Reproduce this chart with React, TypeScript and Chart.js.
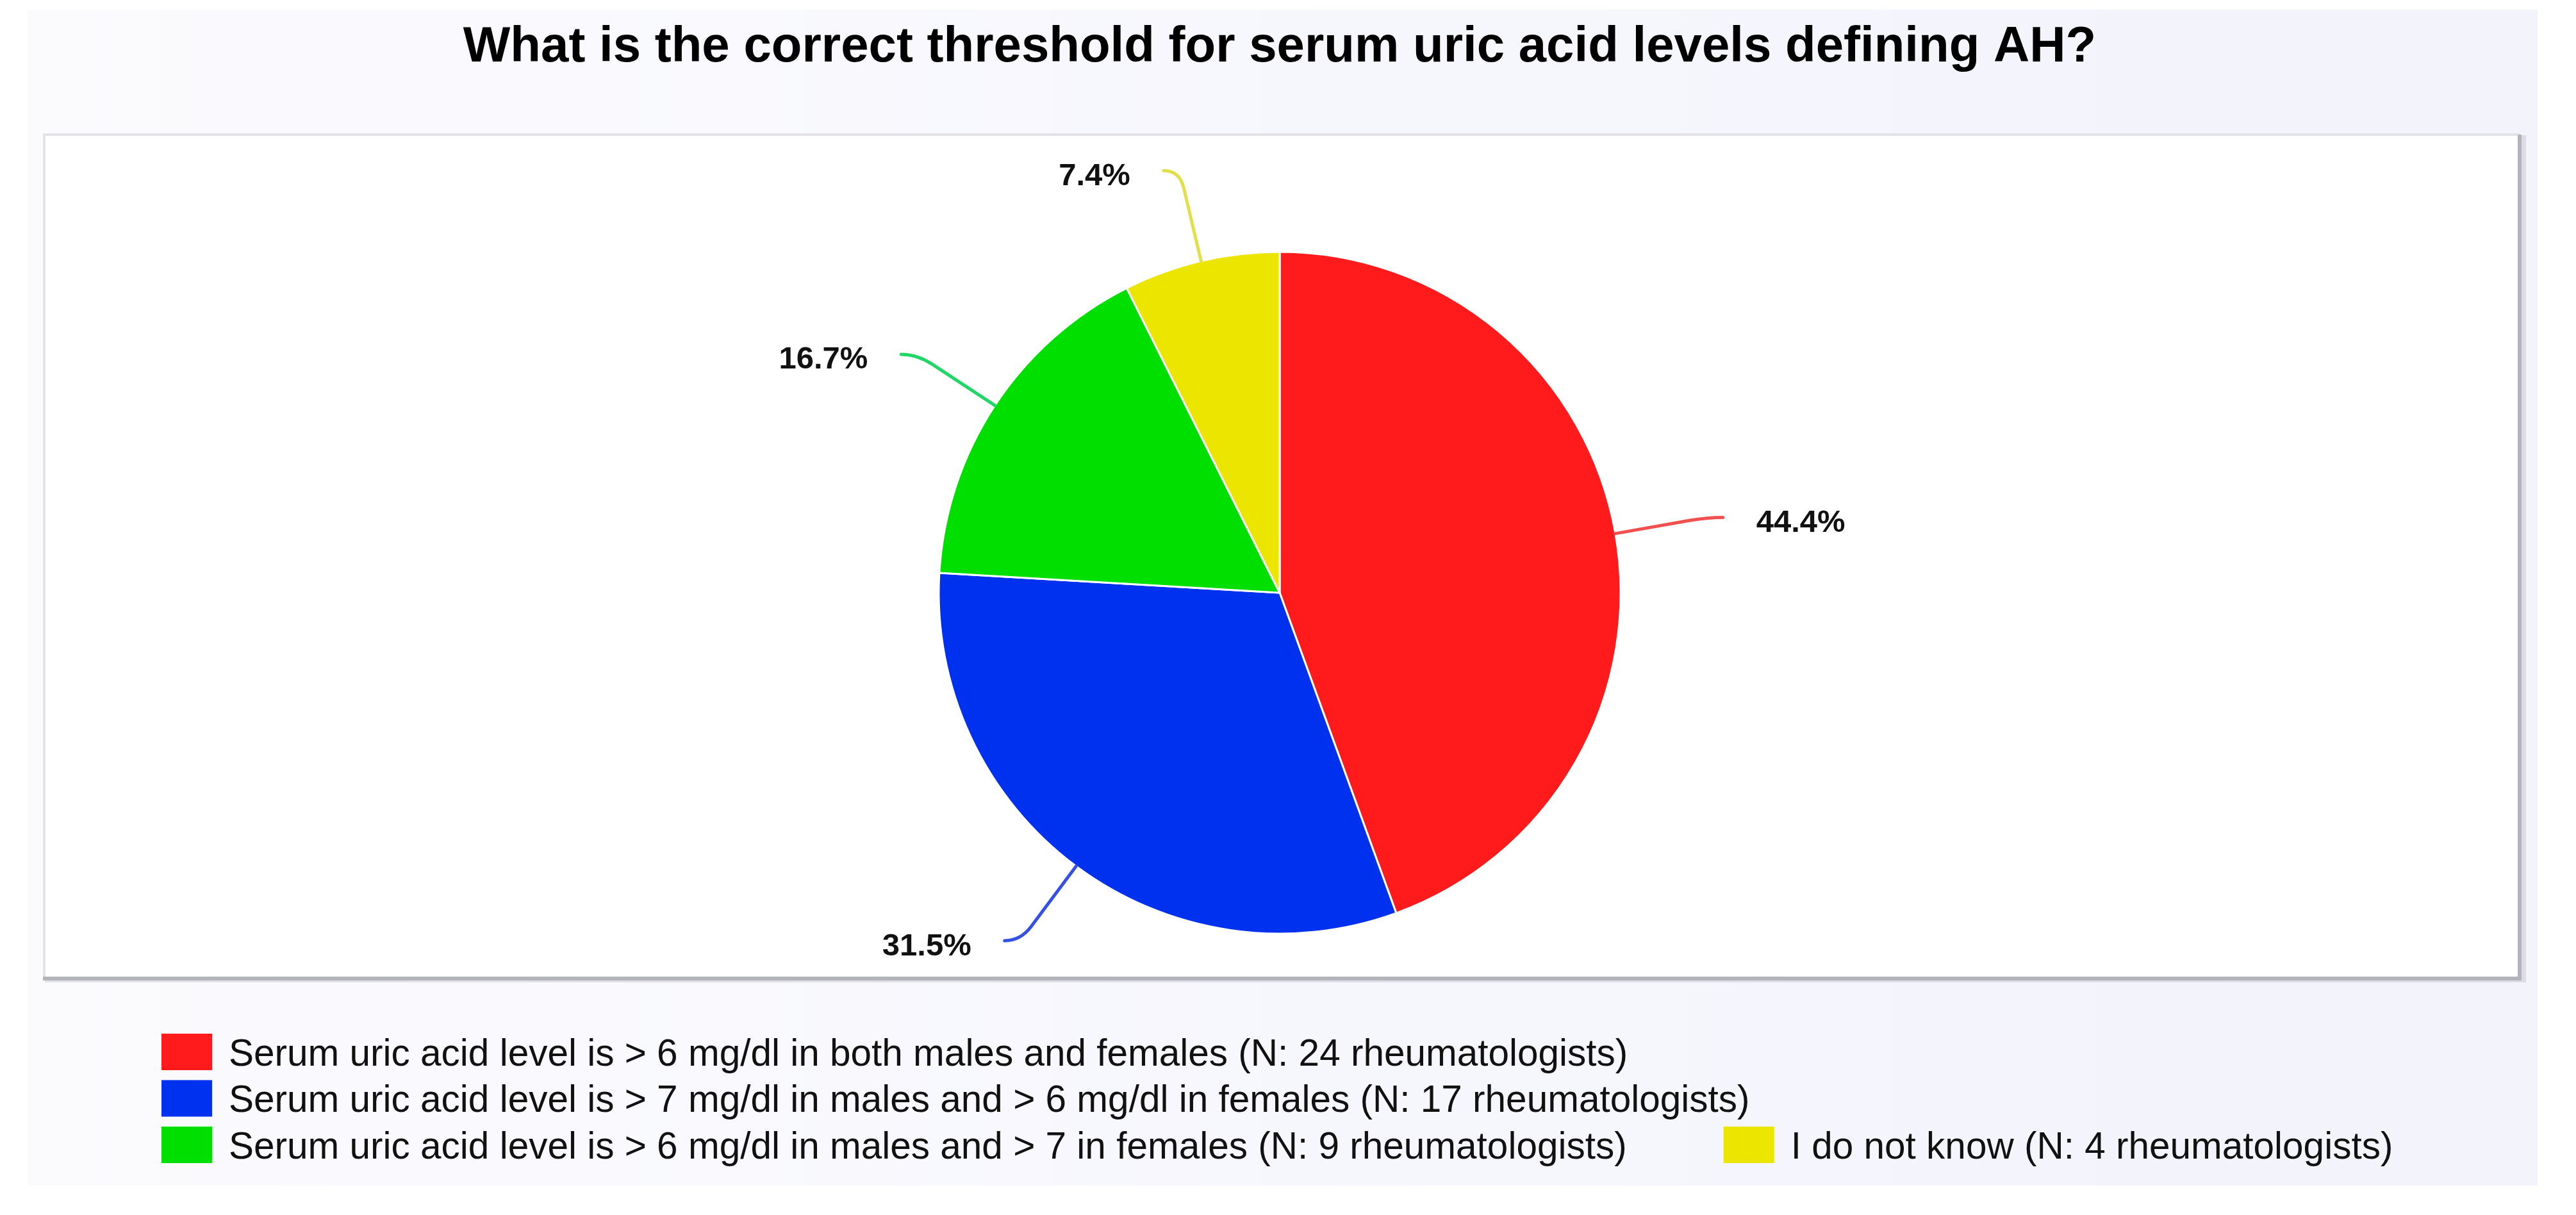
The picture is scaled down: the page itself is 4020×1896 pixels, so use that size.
import React, { useEffect, useRef } from "react";
import { Chart, registerables } from "chart.js";

Chart.register(...registerables);

const TITLE = "What is the correct threshold for serum uric acid levels defining AH?";
const CATEGORIES = [
  "Serum uric acid level is > 6 mg/dl in both males and females (N: 24 rheumatologists)",
  "Serum uric acid level is > 7 mg/dl in males and > 6 mg/dl in females (N: 17 rheumatologists)",
  "Serum uric acid level is > 6 mg/dl in males and > 7 in females (N: 9 rheumatologists)",
  "I do not know (N: 4 rheumatologists)",
];
const COUNTS = [24, 17, 9, 4];
const SLICE_COLORS = ["#ff1b1b", "#0031ee", "#00df00", "#ebe500"];
const LEADER_COLORS = ["#f24f4f", "#3550e4", "#1fd765", "#e3df4a"];

const FONT = "'Liberation Sans', Arial, Helvetica, sans-serif";

const framePlugin = {
  id: "frame",
  beforeDraw(chart: any) {
    const ctx = chart.ctx;
    ctx.save();
    const g = ctx.createLinearGradient(43, 0, 3960, 0);
    g.addColorStop(0, "#fbfbfe");
    g.addColorStop(1, "#f2f3fb");
    ctx.fillStyle = g;
    ctx.fillRect(43, 15, 3960 - 43, 1850 - 15);
    ctx.fillStyle = "rgba(150,150,165,0.25)";
    ctx.fillRect(70, 211, 3872, 1322);
    ctx.fillStyle = "#ffffff";
    ctx.fillRect(67, 208, 3932 - 67, 1527 - 208);
    ctx.lineCap = "butt";
    ctx.strokeStyle = "#e3e3e8";
    ctx.lineWidth = 4;
    ctx.beginPath();
    ctx.moveTo(69, 1527);
    ctx.lineTo(69, 210);
    ctx.lineTo(3932, 210);
    ctx.stroke();
    ctx.strokeStyle = "#b3b3bc";
    ctx.lineWidth = 6;
    ctx.beginPath();
    ctx.moveTo(67, 1527);
    ctx.lineTo(3932, 1527);
    ctx.lineTo(3932, 210);
    ctx.stroke();
    ctx.restore();
  },
};

const leaderPlugin = {
  id: "leaders",
  afterDatasetsDraw(chart: any) {
    const ctx = chart.ctx;
    const meta = chart.getDatasetMeta(0);
    const total = COUNTS.reduce((a, b) => a + b, 0);
    ctx.save();
    meta.data.forEach((arc: any, i: number) => {
      const { x, y, startAngle, endAngle, outerRadius } = arc.getProps(
        ["x", "y", "startAngle", "endAngle", "outerRadius"],
        true
      );
      const mid = (startAngle + endAngle) / 2;
      const cx = Math.cos(mid);
      const sy = Math.sin(mid);
      const p0x = x + cx * outerRadius;
      const p0y = y + sy * outerRadius;
      const L = 145;
      const K = 28;
      const side = cx >= 0 ? 1 : -1;
      const p1x = p0x + cx * L;
      const p1y = p0y + sy * L;
      const pax = p0x + cx * (L - K);
      const pay = p0y + sy * (L - K);
      const p2x = p1x + side * 25;
      const p2y = p1y;
      ctx.strokeStyle = LEADER_COLORS[i];
      ctx.lineWidth = 5;
      ctx.lineCap = "round";
      ctx.beginPath();
      ctx.moveTo(p0x, p0y);
      ctx.lineTo(pax, pay);
      ctx.quadraticCurveTo(p1x, p1y, p2x, p2y);
      ctx.stroke();
      const pct = ((COUNTS[i] / total) * 100).toFixed(1) + "%";
      ctx.fillStyle = "#111111";
      ctx.font = `bold 49px ${FONT}`;
      ctx.textBaseline = "middle";
      ctx.textAlign = side > 0 ? "left" : "right";
      ctx.fillText(pct, p2x + side * 52, p2y + 9);
    });
    ctx.restore();
  },
};

const legendPlugin = {
  id: "customLegend",
  afterDraw(chart: any) {
    const ctx = chart.ctx;
    const labels: string[] = chart.data.labels;
    const colors: string[] = chart.data.datasets[0].backgroundColor;
    const startX = 252;
    const startY = 1613;
    const boxW = 79;
    const boxH = 57;
    const textGap = 26;
    const itemGap = 151;
    const rowH = 72.5;
    const maxWidth = 3550;
    ctx.save();
    ctx.font = `58.5px ${FONT}`;
    ctx.textBaseline = "middle";
    ctx.textAlign = "left";
    let x = startX;
    let row = 0;
    labels.forEach((lab, i) => {
      const w = boxW + textGap + ctx.measureText(lab).width;
      if (i > 0) {
        if (x - startX + itemGap + w > maxWidth) {
          row += 1;
          x = startX;
        } else {
          x += itemGap;
        }
      }
      const top = startY + row * rowH;
      ctx.fillStyle = colors[i];
      ctx.fillRect(x, top, boxW, boxH);
      ctx.fillStyle = "#111111";
      ctx.fillText(lab, x + boxW + textGap, top + boxH / 2 + 5);
      x += w;
    });
    ctx.restore();
  },
};

export default function App() {
  const ref = useRef<HTMLCanvasElement | null>(null);
  useEffect(() => {
    if (!ref.current) return;
    const chart = new Chart(ref.current, {
      type: "pie",
      data: {
        labels: CATEGORIES,
        datasets: [
          {
            data: COUNTS,
            backgroundColor: SLICE_COLORS,
            borderColor: "#ffffff",
            borderWidth: 3,
            hoverOffset: 0,
            radius: 532,
          } as any,
        ],
      },
      options: {
        responsive: false,
        animation: false,
        devicePixelRatio: 1,
        layout: { padding: { top: 0, left: 0, right: 26, bottom: 317.6 } },
        plugins: {
          legend: { display: false },
          tooltip: { enabled: false },
          title: {
            display: true,
            text: TITLE,
            color: "#000000",
            font: { family: FONT, size: 78, weight: "bold", lineHeight: 1.2 },
            padding: { top: 28, bottom: 150 },
          },
        },
      } as any,
      plugins: [framePlugin, leaderPlugin, legendPlugin],
    });
    return () => chart.destroy();
  }, []);
  return (
    <div style={{ position: "absolute", left: 0, top: 0, width: 4020, height: 1896, background: "#ffffff" }}>
      <canvas ref={ref} width={4020} height={1896} style={{ width: 4020, height: 1896, display: "block" }} />
    </div>
  );
}
